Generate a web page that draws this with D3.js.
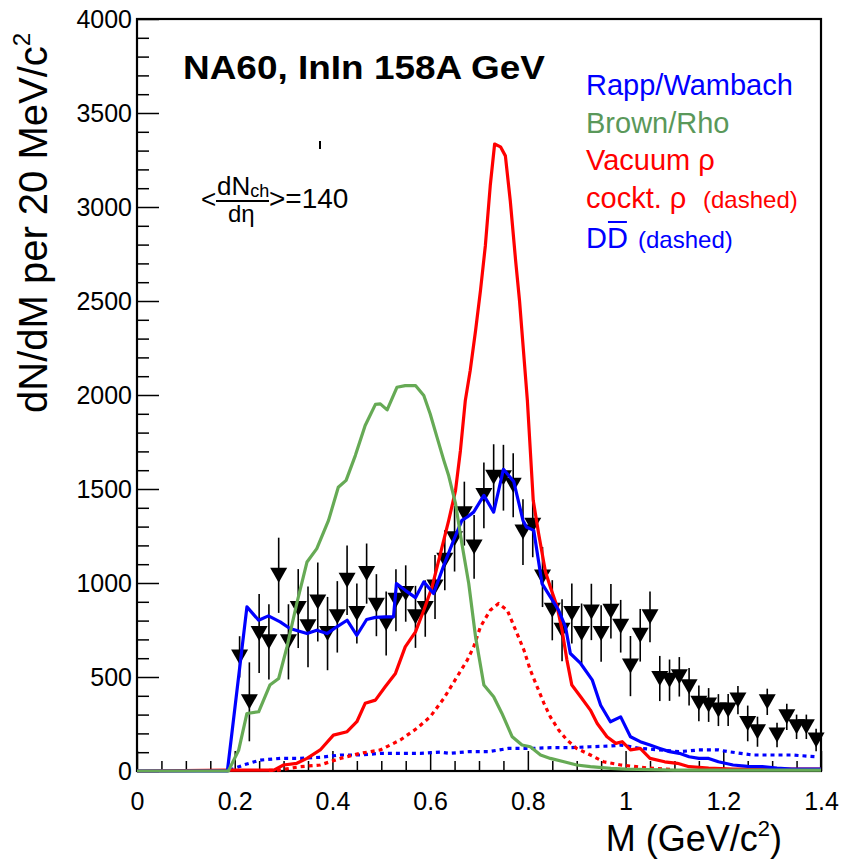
<!DOCTYPE html>
<html><head><meta charset="utf-8">
<script src="https://cdn.jsdelivr.net/npm/d3@7"></script>
<style>body{margin:0;background:#fff}svg{display:block}text{font-family:"Liberation Sans",Arial,sans-serif}</style>
</head><body><svg id="c" width="844" height="863"></svg>
<script>
// ---- data ----
const dataM = [0.21,0.23,0.25,0.27,0.29,0.31,0.33,0.35,0.37,0.39,0.41,0.43,0.45,0.47,0.49,0.51,0.53,0.55,0.57,0.59,
  0.61,0.63,0.65,0.67,0.69,0.71,0.73,0.75,0.77,0.79,0.81,0.83,0.85,0.87,0.89,0.91,0.93,0.95,0.97,0.99,
  1.01,1.03,1.05,1.07,1.09,1.11,1.13,1.15,1.17,1.19,1.21,1.23,1.25,1.27,1.29,1.31,1.33,1.35,1.37,1.39];
const dataY = [607,368,731,687,1041,687,864,767,899,731,820,1015,838,1050,882,785,908,944,820,864,
  979,1121,1236,1369,1192,1466,1563,1560,1520,1271,1307,1032,855,749,838,731,846,731,850,770,
  558,722,820,492,483,501,448,360,351,324,324,377,253,209,368,191,288,235,235,165];
const dataErr = [110,210,210,200,200,200,210,215,210,195,190,185,160,160,165,170,165,150,165,150,
  170,160,175,170,170,175,175,175,170,175,170,160,160,165,160,160,150,150,145,140,
  160,140,135,120,110,105,100,95,90,85,85,75,95,80,70,65,70,65,65,60];

const rappM = [0,0.185,0.225,0.249,0.269,0.293,0.313,0.348,0.368,0.389,0.409,0.43,0.45,0.47,0.488,0.508,0.525,0.531,0.549,0.57,
  0.587,0.607,0.628,0.648,0.665,0.676,0.689,0.71,0.73,0.75,0.771,0.79,0.797,0.812,0.829,0.846,0.863,0.877,0.887,0.908,
  0.932,0.949,0.969,0.99,1.01,1.03,1.05,1.07,1.09,1.11,1.13,1.15,1.17,1.19,1.22,1.25,1.28,1.31,1.34,1.4];
const rappY = [0,0,873,802,825,793,758,731,749,731,767,802,722,806,817,820,820,997,961,922,
  1006,944,1094,1227,1333,1351,1377,1466,1377,1605,1540,1333,1298,1280,997,926,855,767,625,572,
  483,350,262,288,182,156,138,120,103,94,76,67,67,49,32,25,23,15,10,10];

const brownM = [0,0.187,0.208,0.225,0.249,0.272,0.29,0.307,0.327,0.348,0.368,0.392,0.412,0.428,0.447,0.467,0.488,0.498,0.512,0.532,
  0.549,0.57,0.587,0.6,0.614,0.628,0.638,0.652,0.665,0.679,0.693,0.71,0.73,0.747,0.768,0.788,0.805,0.826,0.846,0.874,
  0.9,0.928,0.97,1.0,1.1,1.4];
const brownY = [0,0,110,306,315,457,492,660,891,1112,1183,1333,1509,1546,1679,1838,1950,1953,1921,2041,
  2050,2050,1997,1900,1776,1652,1570,1422,1209,997,713,457,395,306,182,138,129,85,67,49,
  32,23,14,10,5,5];

const vacM = [0,0.19,0.28,0.3,0.327,0.348,0.375,0.402,0.43,0.45,0.467,0.488,0.508,0.529,0.549,0.57,0.587,0.604,0.621,0.638,
  0.652,0.662,0.672,0.682,0.693,0.703,0.713,0.723,0.732,0.744,0.754,0.764,0.775,0.783,0.799,0.811,0.822,0.836,0.846,0.86,
  0.87,0.88,0.89,0.908,0.928,0.942,0.962,0.98,0.993,1.01,1.03,1.05,1.08,1.106,1.13,1.17,1.22,1.4];
const vacY = [0,5,5,32,41,67,112,191,209,262,360,377,448,519,660,740,855,979,1156,1333,
  1493,1705,1971,2130,2343,2555,2794,3113,3335,3320,3272,3033,2714,2500,1971,1440,1263,1060,979,873,
  749,590,457,395,324,253,182,147,156,112,120,67,49,41,23,15,10,10];

const cocktM = [0.27,0.29,0.334,0.375,0.416,0.457,0.498,0.539,0.573,0.6,0.628,0.655,0.676,0.689,0.703,0.723,0.74,0.758,0.775,0.792,
  0.805,0.819,0.833,0.846,0.863,0.88,0.9,0.928,0.955,0.99,1.05,1.1];
const cocktY = [3,5,23,32,67,94,112,165,227,288,386,501,590,660,767,855,891,855,749,643,
  537,448,360,288,218,165,120,85,49,32,15,8];

const ddM = [0.19,0.218,0.252,0.293,0.334,0.375,0.416,0.457,0.498,0.539,0.58,0.62,0.64,0.68,0.72,0.76,0.805,0.846,0.887,0.928,
  0.969,0.99,1.03,1.07,1.11,1.15,1.19,1.21,1.26,1.3,1.34,1.39];
const ddY = [5,32,58,67,67,73,85,85,94,94,94,100,94,103,103,120,120,124,124,129,
  133,138,120,112,103,112,112,103,85,85,85,76];

const xMajor = [0,0.2,0.4,0.6,0.8,1,1.2,1.4];
const xTickLabels = ["0","0.2","0.4","0.6","0.8","1","1.2","1.4"];
const yMajor = [0,500,1000,1500,2000,2500,3000,3500,4000];
const yTickLabels = ["0","500","1000","1500","2000","2500","3000","3500","4000"];

// ---- chart ----
const svg = d3.select("#c");
const L=137, R=821, T=19, B=771;
const x = d3.scaleLinear().domain([0,1.4]).range([L,R]);
const y = d3.scaleLinear().domain([0,4000]).range([B,T]);

const xMinor = d3.range(0,1.4001,0.05).filter(v=>Math.abs(v/0.2-Math.round(v/0.2))>1e-6);
const yMinor = d3.range(0,4001,100).filter(v=>v%500!==0);

// axes
svg.append("g").attr("transform",`translate(0,${B})`)
  .call(d3.axisBottom(x).tickValues(xMinor).tickSize(-10).tickFormat(""))
  .call(g=>g.select(".domain").remove());
const gx = svg.append("g").attr("transform",`translate(0,${B})`)
  .call(d3.axisBottom(x).tickValues(xMajor).tickSize(-20).tickPadding(21)
     .tickFormat((d,i)=>xTickLabels[i]));
gx.select(".domain").remove();
gx.selectAll("text").attr("font-size",25).attr("fill","#000").style("font-family","Liberation Sans");
svg.selectAll(".tick line").attr("stroke","#000").attr("stroke-width",1.5);

svg.append("g").attr("transform",`translate(${L},0)`)
  .call(d3.axisLeft(y).tickValues(yMinor).tickSize(-12).tickFormat(""))
  .call(g=>g.select(".domain").remove())
  .selectAll("line").attr("stroke","#000").attr("stroke-width",1.5);
const gy = svg.append("g").attr("transform",`translate(${L},0)`)
  .call(d3.axisLeft(y).tickValues(yMajor).tickSize(-22).tickPadding(5)
     .tickFormat((d,i)=>yTickLabels[i]));
gy.select(".domain").remove();
gy.selectAll("line").attr("stroke","#000").attr("stroke-width",1.5);
gy.selectAll("text").attr("font-size",25).attr("fill","#000").style("font-family","Liberation Sans");

// frame
svg.append("rect").attr("x",L).attr("y",T).attr("width",R-L).attr("height",B-T)
  .attr("fill","none").attr("stroke","#000").attr("stroke-width",2.2);

// data points
const gd = svg.append("g");
dataM.forEach((m,i)=>{
  gd.append("line").attr("x1",x(m)).attr("x2",x(m))
    .attr("y1",y(Math.max(0,dataY[i]-dataErr[i]))).attr("y2",y(dataY[i]+dataErr[i]))
    .attr("stroke","#000").attr("stroke-width",1.6);
});
dataM.forEach((m,i)=>{
  const cx=x(m), cy=y(dataY[i]);
  gd.append("path").attr("d",`M${cx-8.5},${cy-7.5}L${cx+8.5},${cy-7.5}L${cx},${cy+7.5}Z`).attr("fill","#000");
});

const line = d3.line().x(d=>x(d[0])).y(d=>y(d[1]));
function curve(M,Y,color,dash){
  svg.append("path").datum(M.map((m,i)=>[m,Y[i]])).attr("d",line)
    .attr("fill","none").attr("stroke",color).attr("stroke-width",3.2)
    .attr("stroke-linejoin","round")
    .attr("stroke-dasharray",dash||null);
}
curve(ddM,ddY,"#0000ff","4,4");
curve(cocktM,cocktY,"#ff0000","4,4");
curve(vacM,vacY,"#ff0000");
curve(rappM,rappY,"#0000ff");
curve(brownM,brownY,"#66aa55");

// title
svg.append("text").attr("x",183).attr("y",79).attr("font-size",34).attr("font-weight","bold")
  .attr("textLength",362).attr("lengthAdjust","spacingAndGlyphs").text("NA60, InIn 158A GeV");

// legend
const leg = [
  {t:"Rapp/Wambach",c:"#0000ff",y:95},
  {t:"Brown/Rho",c:"#5a985a",y:133},
  {t:"Vacuum \u03c1",c:"#ff0000",y:170},
];
leg.forEach(d=>svg.append("text").attr("x",586).attr("y",d.y).attr("font-size",29).attr("fill",d.c).text(d.t));
svg.append("text").attr("x",586).attr("y",208).attr("font-size",29).attr("fill","#ff0000").text("cockt. \u03c1")
  .append("tspan").attr("x",703).attr("font-size",24).text("(dashed)");
const dd = svg.append("text").attr("x",586).attr("y",248).attr("font-size",29).attr("fill","#0000ff");
dd.append("tspan").text("D");
const d2 = dd.append("tspan").text("D");
dd.append("tspan").attr("x",638).attr("font-size",24).text("(dashed)");
{
  const n = dd.node();
  const s = n.getStartPositionOfChar(1).x, e = n.getEndPositionOfChar(1).x;
  svg.append("line").attr("x1",s+1).attr("x2",e-1).attr("y1",222).attr("y2",222)
    .attr("stroke","#0000ff").attr("stroke-width",2);
}

// multiplicity label
svg.append("text").attr("x",201).attr("y",208).attr("font-size",26).text("<");
svg.append("text").attr("x",217).attr("y",195).attr("font-size",26).text("dN")
  .append("tspan").attr("font-size",18).attr("dy",2).text("ch");
svg.append("line").attr("x1",216).attr("x2",269).attr("y1",201).attr("y2",201).attr("stroke","#000").attr("stroke-width",1.8);
svg.append("text").attr("x",228).attr("y",222).attr("font-size",24).text("d\u03b7");
svg.append("text").attr("x",269).attr("y",208).attr("font-size",28).text(">=140");
svg.append("line").attr("x1",320).attr("x2",320).attr("y1",141).attr("y2",149).attr("stroke","#000").attr("stroke-width",2);

// axis titles
const xt = svg.append("text").attr("x",782).attr("y",851).attr("font-size",36).attr("text-anchor","end");
xt.append("tspan").text("M (GeV/c");
xt.append("tspan").attr("font-size",22).attr("dy",-15).text("2");
xt.append("tspan").attr("dy",15).text(")");

const yt = svg.append("text").attr("transform","translate(47,413) rotate(-90)").attr("font-size",40);
yt.append("tspan").text("dN/dM per 20 MeV/c");
yt.append("tspan").attr("font-size",24).attr("dy",-17).text("2");
</script></body></html>
